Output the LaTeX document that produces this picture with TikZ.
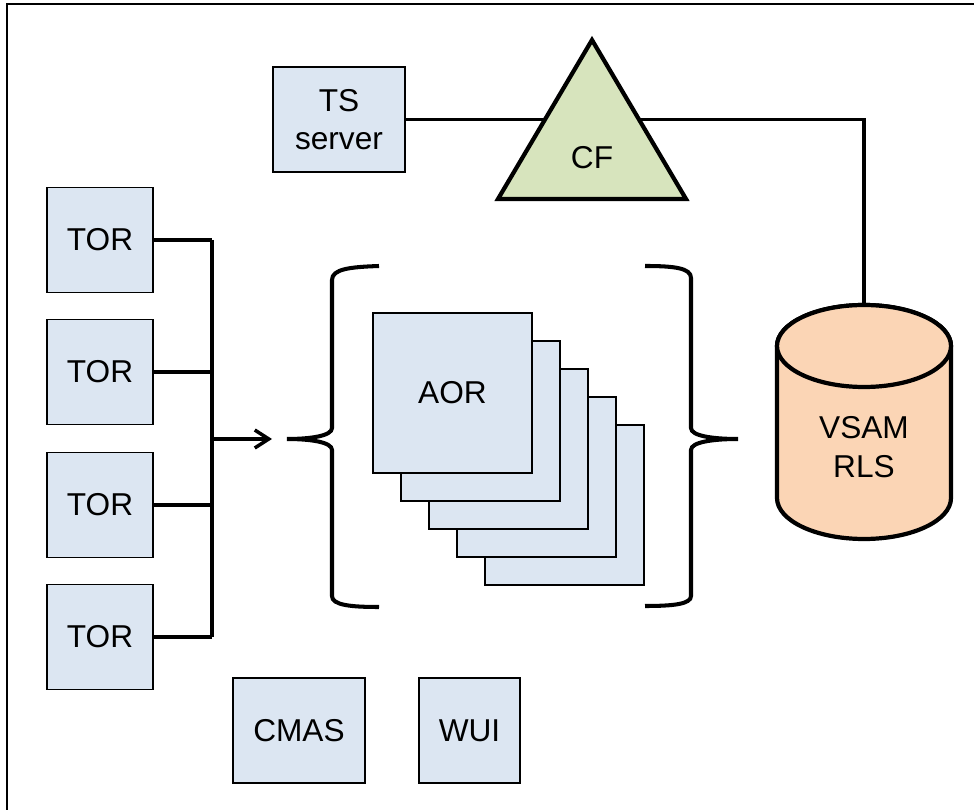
\documentclass[tikz,border=0pt]{standalone}
\usepackage{fontspec}
\setmainfont{Liberation Sans}
\usepackage{xcolor}
\usetikzlibrary{arrows.meta,positioning}

\definecolor{boxblue}{HTML}{DCE6F2}
\definecolor{cfgreen}{HTML}{D7E4BD}
\definecolor{diskpeach}{HTML}{FBD5B5}

\begin{document}
\begin{tikzpicture}[x=0.02cm, y=-0.02cm, font=\fontsize{18}{22}\selectfont]
    % Define styles
    \tikzstyle{region} = [rectangle, draw, fill=boxblue, line width=0.9pt, align=center, minimum width=2.12cm, minimum height=2.1cm]
    \tikzstyle{aorbox} = [region, minimum width=3.18cm, minimum height=3.2cm]
    \tikzstyle{link} = [line width=2pt]
    \tikzstyle{feed} = [link, -{Straight Barb[length=2.8mm, width=3.6mm]}]
    \tikzstyle{bracket} = [line width=2.3pt]
    \tikzstyle{cfshape} = [draw, fill=cfgreen, line width=2.4pt]
    \tikzstyle{disk} = [draw, fill=diskpeach, line width=2.4pt]

    \useasboundingbox (0,0) rectangle (974,810);
    \draw [line width=1.1pt] (7,810) -- (7,4) -- (974,4);

    % Top row
    \node [region, minimum width=2.64cm] (ts) at (339,119.5) {TS\\server};
    \coordinate (vsamtop) at (864,305);
    \draw [link] (ts.east) -| (vsamtop);
    \filldraw [cfshape] (592,40) -- (686,199) -- (498,199) -- cycle;
    \node (cf) at (592,158) {CF};

    % VSAM RLS data set
    \draw [disk] (777,346) -- (777,498) arc [start angle=180, end angle=0, x radius=87, y radius=41]
        -- (951,346) arc [start angle=360, end angle=180, x radius=87, y radius=41] -- cycle;
    \draw [disk] (864,346) ellipse [x radius=87, y radius=41];
    \node [align=center] (vsam) at (864,447) {VSAM\\RLS};

    % Terminal owning regions
    \coordinate (bus) at (212,439);
    \coordinate (inlet) at (272,439);
    \foreach \y [count=\i] in {240,372,505,637} {
        \node [region] (tor\i) at (100,\y) {TOR};
        \draw [link] (tor\i.east) -- (tor\i.east -| bus);
    }
    \draw [link] (tor1.east -| bus) -- (tor4.east -| bus);
    \draw [feed] (bus) -- (inlet);

    % Application owning regions
    \foreach \i in {4,...,1}
        \node [aorbox] (aor\i) at ({452.5+28*\i},{393+28*\i}) {};
    \node [aorbox] (aor) at (452.5,393) {AOR};

    % Braces
    \draw [bracket] (379,266) .. controls (350,267) and (332,269) .. (332,280) -- (332,428)
        .. controls (332,436) and (310,439) .. (287,439)
        .. controls (310,439) and (332,442) .. (332,450) -- (332,596)
        .. controls (332,605) and (350,607) .. (379,607);
    \draw [bracket] (645,266) .. controls (674,266) and (691,268) .. (691,278) -- (691,428)
        .. controls (691,436) and (713,439) .. (738,439)
        .. controls (713,439) and (691,442) .. (691,450) -- (691,596)
        .. controls (691,604) and (674,606) .. (645,606);

    % Management
    \node [region, minimum width=2.64cm] (cmas) at (299,730.5) {CMAS};
    \node [region, minimum width=2.02cm] (wui) at (469.5,730.5) {WUI};
\end{tikzpicture}
\end{document}
